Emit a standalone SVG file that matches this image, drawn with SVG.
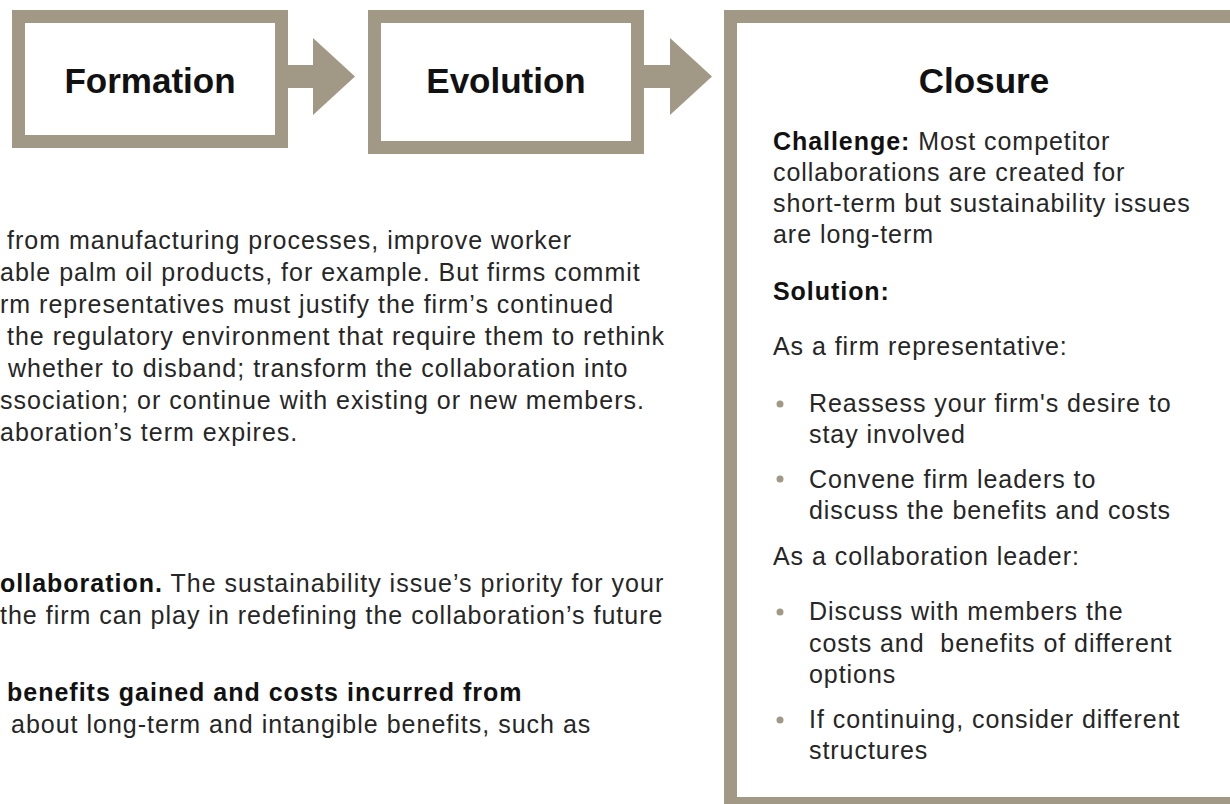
<svg xmlns="http://www.w3.org/2000/svg" width="1230" height="804" viewBox="0 0 1230 804">
<style>
.box{fill:#ffffff;stroke:#a29886;stroke-width:13}
.arrow{fill:#a29886}
.title{font-family:"Liberation Sans",Arial,sans-serif;font-weight:bold;font-size:35px;fill:#111;text-anchor:middle}
.body{font-family:"Liberation Sans",Arial,sans-serif;font-size:25px;fill:#262626;letter-spacing:1px}
.cl{font-family:"Liberation Sans",Arial,sans-serif;font-size:25px;fill:#262626;letter-spacing:0.95px}
.b{font-weight:bold;fill:#111}
.dot{fill:#a29886}
</style>
<rect width="1230" height="804" fill="#ffffff"/>
<g id="closure">
<rect class="box" x="730.5" y="16.5" width="520" height="787"/>
<text class="title" x="984" y="93">Closure</text>
<text class="cl" x="773" y="150"><tspan class="b">Challenge:</tspan> Most competitor</text>
<text class="cl" x="773" y="181">collaborations are created for</text>
<text class="cl" x="773" y="212">short-term but sustainability issues</text>
<text class="cl" x="773" y="243">are long-term</text>
<text class="cl b" x="773" y="300">Solution:</text>
<text class="cl" x="773" y="355">As a firm representative:</text>
<circle class="dot" cx="780" cy="404" r="3.5"/>
<text class="cl" x="809" y="412">Reassess your firm's desire to</text>
<text class="cl" x="809" y="443">stay involved</text>
<circle class="dot" cx="780" cy="479" r="3.5"/>
<text class="cl" x="809" y="488">Convene firm leaders to</text>
<text class="cl" x="809" y="519">discuss the benefits and costs</text>
<text class="cl" x="773" y="565">As a collaboration leader:</text>
<circle class="dot" cx="780" cy="612" r="3.5"/>
<text class="cl" x="809" y="620">Discuss with members the</text>
<text class="cl" x="809" y="652" xml:space="preserve">costs and  benefits of different</text>
<text class="cl" x="809" y="683">options</text>
<circle class="dot" cx="780" cy="720" r="3.5"/>
<text class="cl" x="809" y="728">If continuing, consider different</text>
<text class="cl" x="809" y="759">structures</text>
</g>
<g id="formation">
<rect class="box" x="18.5" y="16.5" width="263" height="125"/>
<text class="title" x="150" y="93">Formation</text>
</g>
<g id="evolution">
<rect class="box" x="374.5" y="16.5" width="263" height="131"/>
<text class="title" x="506" y="93">Evolution</text>
</g>
<g id="connectors">
<polygon class="arrow" points="288,65 313,65 313,38 355,76.5 313,115 313,88 288,88"/>
<polygon class="arrow" points="644,65 670,65 670,38 712,76.5 670,115 670,88 644,88"/>
</g>
<g id="body-text">
<text class="body" x="7" y="249">from manufacturing processes, improve worker</text>
<text class="body" x="0" y="281">able palm oil products, for example. But firms commit</text>
<text class="body" x="0" y="313">rm representatives must justify the firm’s continued</text>
<text class="body" x="7" y="345">the regulatory environment that require them to rethink</text>
<text class="body" x="8" y="377">whether to disband; transform the collaboration into</text>
<text class="body" x="0" y="409">ssociation; or continue with existing or new members.</text>
<text class="body" x="0" y="441">aboration’s term expires.</text>
<text class="body" x="0" y="592"><tspan class="b">ollaboration.</tspan> The sustainability issue’s priority for your</text>
<text class="body" x="0" y="624">the firm can play in redefining the collaboration’s future</text>
<text class="body b" x="7" y="701">benefits gained and costs incurred from</text>
<text class="body" x="11" y="733">about long-term and intangible benefits, such as</text>
</g>
</svg>
